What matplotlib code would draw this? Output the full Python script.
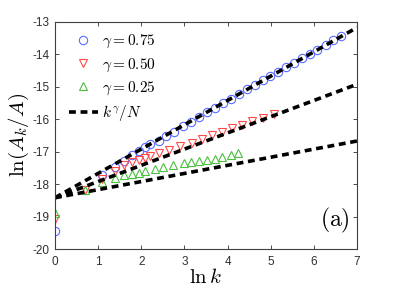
import matplotlib
matplotlib.use("Agg")
import matplotlib.pyplot as plt
import numpy as np

plt.rcParams['mathtext.fontset'] = 'cm'
plt.rcParams['axes.unicode_minus'] = False
plt.rcParams['font.family'] = ['Liberation Sans', 'DejaVu Sans']

# data (ln k, ln(A_k/A))
x075 = [0, 1.10, 1.39, 1.61, 1.79, 1.95, 2.08, 2.20, 2.40, 2.58, 2.77, 2.97, 3.15, 3.33,
        3.53, 3.72, 3.90, 4.08, 4.26, 4.45, 4.64, 4.81, 4.99, 5.17, 5.35, 5.54, 5.72,
        5.90, 6.08, 6.27, 6.45, 6.63]
y075 = [-19.43, -17.72, -17.47, -17.28, -17.10, -16.98, -16.86, -16.77, -16.66, -16.52,
        -16.38, -16.22, -16.08, -15.94, -15.79, -15.64, -15.50, -15.36, -15.22, -15.08,
        -14.94, -14.80, -14.67, -14.53, -14.40, -14.26, -14.12, -13.98, -13.85, -13.71,
        -13.57, -13.44]
x050 = [0, 0.69, 1.10, 1.39, 1.61, 1.79, 1.95, 2.08, 2.20, 2.40, 2.64, 2.90, 3.17, 3.40,
        3.63, 3.86, 4.10, 4.33, 4.57, 4.82, 5.07]
y050 = [-19.08, -18.18, -17.85, -17.60, -17.42, -17.33, -17.26, -17.20, -17.14, -17.05,
        -16.95, -16.83, -16.72, -16.61, -16.50, -16.39, -16.28, -16.17, -16.06, -15.95,
        -15.85]
x025 = [0, 0.69, 1.10, 1.39, 1.61, 1.79, 1.95, 2.09, 2.32, 2.51, 2.74, 2.98, 3.15, 3.33,
        3.52, 3.71, 3.88, 4.07, 4.25]
y025 = [-18.88, -18.18, -17.94, -17.80, -17.72, -17.68, -17.65, -17.60, -17.52, -17.47,
        -17.41, -17.34, -17.31, -17.29, -17.26, -17.21, -17.16, -17.10, -17.05]
gammas = [0.75, 0.50, 0.25]
lnN = 18.42
xfit = [0, 7]

fig = plt.figure(figsize=(3.95, 2.97), dpi=100)
ax = fig.add_axes([0.139, 0.1616, 0.765, 0.7644])

ms = 6
ax.plot(x075, y075, 'o', mfc='none', mec='#5a6cff', ms=ms, mew=0.8, label=r'$\gamma = 0.75$')
ax.plot(x050, y050, 'v', mfc='none', mec='#ff4a4a', ms=ms, mew=0.8, label=r'$\gamma = 0.50$')
ax.plot(x025, y025, '^', mfc='none', mec='#4cc040', ms=ms, mew=0.8, label=r'$\gamma = 0.25$')
for i, g in enumerate(gammas):
    yf = [g * xv - lnN for xv in xfit]
    ax.plot(xfit, yf, color='black', lw=2.6, dashes=(1.9, 1.3),
            label=r'$k^{\gamma}/N$' if i == 0 else None)

ax.set_xlim(0, 7)
ax.set_ylim(-20, -13)
ax.set_xticks(range(0, 8))
ax.set_yticks(range(-20, -12))
ax.tick_params(direction='in', length=3, width=0.6, labelsize=8.5, top=True, right=True,
               colors='#303030', pad=4)
ax.tick_params(axis='x', pad=5)
for s in ax.spines.values():
    s.set_color('#404040')
    s.set_linewidth(0.8)

ax.set_xlabel(r'$\ln k$', fontsize=15, labelpad=0)
ax.set_ylabel(r'$\ln(A_k/A)$', fontsize=15, labelpad=1)

leg = ax.legend(loc='upper left', frameon=False, fontsize=11, handlelength=1.9,
                labelspacing=0.4, handletextpad=0.3, borderaxespad=0.3,
                bbox_to_anchor=(0.01, 1.0))

ax.text(0.975, 0.06, r'$\mathrm{(a)}$', transform=ax.transAxes, fontsize=17,
        ha='right', va='bottom')

fig.savefig('out.png', dpi=100)
